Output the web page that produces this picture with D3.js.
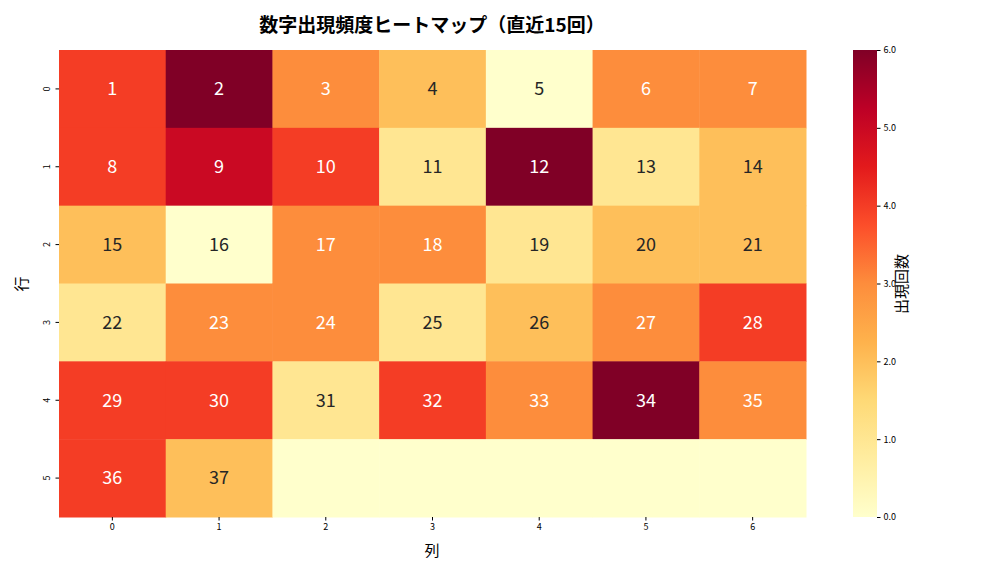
<!DOCTYPE html>
<html><head><meta charset="utf-8">
<script src="https://cdn.jsdelivr.net/npm/d3@7"></script>
<style>body{margin:0;background:#fff}text{font-family:"Noto Sans CJK JP","Noto Sans",sans-serif}</style>
</head><body><svg id="c" width="1008" height="576"></svg>
<script>
const rows=[0,1,2,3,4,5];
const cols=[0,1,2,3,4,5,6];
const counts=[
[4,6,3,2,0,3,3],
[4,5,4,1,6,1,2],
[2,0,3,3,1,2,2],
[1,3,3,1,2,3,4],
[4,4,1,4,3,6,3],
[4,2,0,0,0,0,0]];
const labels=[
["1","2","3","4","5","6","7"],
["8","9","10","11","12","13","14"],
["15","16","17","18","19","20","21"],
["22","23","24","25","26","27","28"],
["29","30","31","32","33","34","35"],
["36","37","","","","",""]];
const cbTicks=[0,1,2,3,4,5,6];
const stops=["#ffffcc","#ffeda0","#fed976","#feb24c","#fd8d3c","#fc4e2a","#e31a1c","#bd0026","#800026"];
const color=d3.scaleLinear().domain(d3.range(9).map(i=>i*6/8)).range(stops).interpolate(d3.interpolateRgb);
const svg=d3.select("#c");
const L=59,R=806,T=50,B=517;
const x=d3.scaleBand().domain(cols).range([L,R]);
const y=d3.scaleBand().domain(rows).range([T,B]);
const cells=[];rows.forEach(r=>cols.forEach(c=>cells.push({r,c,v:counts[r][c],t:labels[r][c]})));
svg.selectAll("rect.cell").data(cells).join("rect").attr("x",d=>x(d.c)).attr("y",d=>y(d.r))
 .attr("width",x.bandwidth()+0.5).attr("height",y.bandwidth()+0.5).attr("fill",d=>color(d.v));
svg.selectAll("text.lab").data(cells.filter(d=>d.t)).join("text").attr("x",d=>x(d.c)+x.bandwidth()/2)
 .attr("y",d=>y(d.r)+y.bandwidth()/2).attr("dy","0.35em").attr("text-anchor","middle").attr("font-size",18)
 .attr("fill",d=>d.v>=3?"#fff":"#262626").text(d=>d.t);
const xa=svg.append("g").attr("transform",`translate(0,${B})`).call(d3.axisBottom(x).tickSize(3.5));
const ya=svg.append("g").attr("transform",`translate(${L},0)`).call(d3.axisLeft(y).tickSize(3.5));
[xa,ya].forEach(a=>{a.select(".domain").remove();a.selectAll("text").attr("font-size",9).attr("fill","#000")});
ya.selectAll(".tick text").attr("transform","rotate(-90)").attr("x",0).attr("dx",0).attr("y",-9).attr("text-anchor","middle").attr("dy","0");
// colorbar
const cy=d3.scaleLinear().domain([0,6]).range([B,T]);
const defs=svg.append("defs");const g=defs.append("linearGradient").attr("id","g").attr("x1",0).attr("x2",0).attr("y1",1).attr("y2",0);
stops.forEach((s,i)=>g.append("stop").attr("offset",i/8).attr("stop-color",s));
svg.append("rect").attr("x",853).attr("y",T).attr("width",24).attr("height",B-T).attr("fill","url(#g)");
const ca=svg.append("g").attr("transform","translate(877,0)").call(d3.axisRight(cy).tickValues(cbTicks).tickSize(3.5));
ca.select(".domain").remove();ca.selectAll("text").attr("font-size",9).attr("fill","#000");
svg.append("text").attr("transform","translate(907,284) rotate(-90)").attr("text-anchor","middle").attr("font-size",15).text("出現回数");
svg.append("text").attr("x",432).attr("y",556).attr("text-anchor","middle").attr("font-size",15).text("列");
svg.append("text").attr("transform","translate(27,284) rotate(-90)").attr("text-anchor","middle").attr("font-size",15).text("行");
svg.append("text").attr("x",432).attr("y",32).attr("text-anchor","middle").attr("font-size",19).attr("font-weight","bold").text("数字出現頻度ヒートマップ（直近15回）");
</script></body></html>
